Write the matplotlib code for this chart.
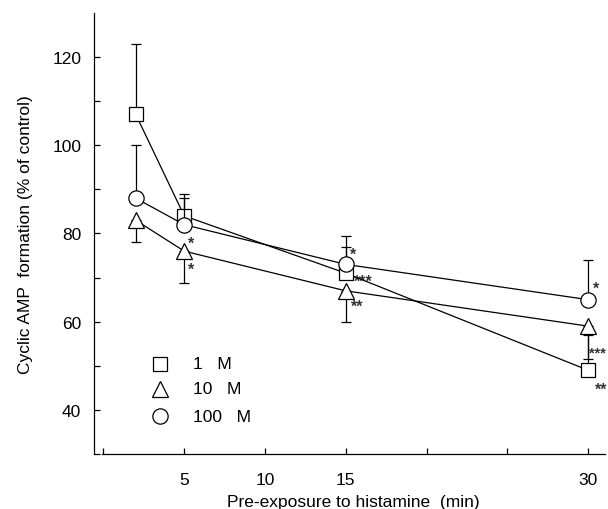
import matplotlib.pyplot as plt

plt.rcParams['font.family'] = ['Liberation Sans', 'DejaVu Sans']

# Data
x_time = [2, 5, 15, 30]

sq_vals = [107, 84, 71, 49]
sq_err_up = [16, 5, 6, 8]
tri_vals = [83, 76, 67, 59]
tri_err_dn = [5, 7.3, 7, 7.5]
cir_vals = [88, 82, 73, 65]
cir_err_up = [12, 6, 6.5, 9]

legend_labels = ["1   M", "10   M", "100   M"]
x_ticks = [0, 5, 10, 15, 20, 25, 30]
x_ticklabels = ["", "5", "10", "15", "", "", "30"]
y_ticks = [40, 60, 80, 100, 120]

fig = plt.figure(figsize=(6.08, 5.10), dpi=100)
ax = fig.add_axes([102 / 608, 55 / 510, 503 / 608, 441 / 510])

lw = 0.9
ms = 10.5

ax.errorbar(x_time, sq_vals, yerr=[[0] * 4, sq_err_up], marker="s",
            ms=ms - 0.5, color="black", mfc="white", mec="black", lw=lw, mew=0.9,
            capsize=3.5, elinewidth=lw, capthick=lw, zorder=3)
ax.errorbar(x_time, tri_vals, yerr=[tri_err_dn, [0] * 4], marker="^",
            ms=ms + 1, color="black", mfc="white", mec="black", lw=lw, mew=0.9,
            capsize=3.5, elinewidth=lw, capthick=lw, zorder=3)
ax.errorbar(x_time, cir_vals, yerr=[[0] * 4, cir_err_up], marker="o",
            ms=ms + 0.5, color="black", mfc="white", mec="black", lw=lw, mew=0.9,
            capsize=3.5, elinewidth=lw, capthick=lw, zorder=4)

# significance stars
stars = [
    (5.25, tri_vals[1] + 1.8, "*", 11.5),
    (5.25, tri_vals[1] - 4.2, "*", 11.5),
    (15.25, cir_vals[2] + 2.2, "*", 11.5),
    (15.5, sq_vals[2] - 1.8, "***", 11.5),
    (15.3, tri_vals[2] - 3.5, "**", 11.5),
    (30.3, cir_vals[3] + 2.5, "*", 11.5),
    (30.05, tri_vals[3] - 6.0, "***", 10.5),
    (30.4, sq_vals[3] - 4.3, "**", 11.5),
]
for sx, sy, s, fs in stars:
    ax.text(sx, sy, s, fontsize=fs, fontweight="bold", color="#333333",
            ha="left", va="center")

# legend drawn by hand
leg_markers = ["s", "^", "o"]
leg_ms = [ms - 0.5, ms + 1, ms + 0.5]
leg_y = [50.5, 44.8, 38.6]
for m, msz, ly, lab in zip(leg_markers, leg_ms, leg_y, legend_labels):
    ax.plot([3.5], [ly], marker=m, ms=msz, mfc="white", mec="black", mew=0.9,
            ls="none")
    ax.text(5.55, ly, lab, fontsize=12.5, ha="left", va="center")

ax.set_xlim(-0.09, 31.05)
ax.set_ylim(30, 130)
ax.set_xticks(x_ticks)
ax.set_xticklabels(x_ticklabels)
ax.set_yticks(y_ticks)
ax.set_yticks([30, 50, 70, 90, 110], minor=True)

for side in ["top", "right"]:
    ax.spines[side].set_visible(False)
ax.spines["left"].set_position(("outward", 6))
ax.spines["left"].set_linewidth(0.9)
ax.spines["bottom"].set_linewidth(0.9)
ax.tick_params(axis="both", direction="in", length=4, width=0.9, labelsize=12.5)
ax.tick_params(axis="y", which="minor", direction="in", length=4, width=0.9)
ax.tick_params(axis="x", pad=13)
ax.tick_params(axis="y", pad=9)

ax.set_xlabel("Pre-exposure to histamine  (min)", fontsize=12.5, labelpad=5)
ax.set_ylabel("Cyclic AMP  formation (% of control)", fontsize=12.5, labelpad=14)

fig.savefig("out.png", dpi=100)
